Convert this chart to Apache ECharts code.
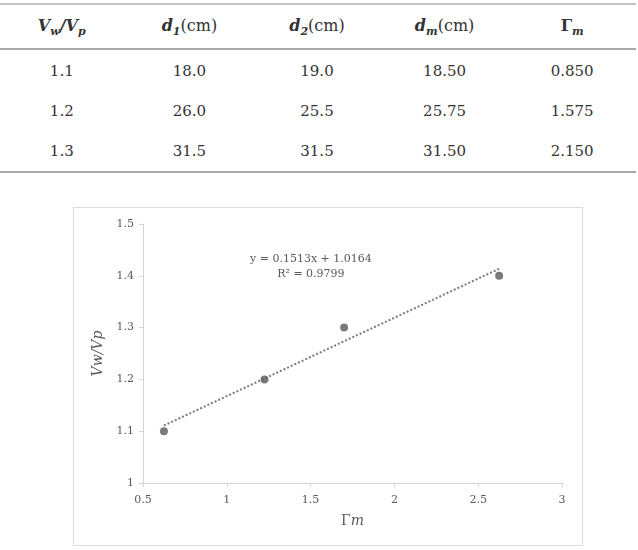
<!DOCTYPE html>
<html lang="en">
  <head>
    <meta charset="UTF-8" />
    <title>Vw/Vp versus Γm</title>
    <script src="https://cdn.jsdelivr.net/npm/echarts@6/dist/echarts.min.js"></script>
    <style>
      body { margin: 0; background: #fff; width: 638px; height: 550px; position: relative; }
      table {
        position: absolute; left: -2px; top: 3px; width: 638px;
        border-collapse: collapse; font-family: 'DejaVu Serif', serif;
        font-size: 15px; color: #333;
      }
      table th, table td { text-align: center; padding: 0; width: 20%; }
      table thead tr { height: 45px; border-top: 2px solid #c4c4c4; border-bottom: 2px solid #a8a8a8; }
      table tbody tr { height: 41px; }
      table tbody tr:first-child td { padding-top: 1px; }
      table tbody tr:last-child { border-bottom: 2px solid #a8a8a8; }
      th { font-weight: normal; font-size: 16px; padding-top: 2px !important; }
      th b { font-style: italic; }
      th sub { font-size: 11px; }
      #main {
        position: absolute; left: 73px; top: 207px; width: 510px; height: 339px;
        box-sizing: border-box; border: 1px solid #dedede;
      }
    </style>
  </head>
  <body>
    <table id="tbl">
      <thead>
        <tr>
          <th><b>V<sub>w</sub>/V<sub>p</sub></b></th>
          <th><b>d<sub>1</sub></b>(cm)</th>
          <th><b>d<sub>2</sub></b>(cm)</th>
          <th><b>d<sub>m</sub></b>(cm)</th>
          <th><b style="font-style:normal">Γ<sub style="font-style:italic">m</sub></b></th>
        </tr>
      </thead>
      <tbody></tbody>
    </table>
    <div id="main"></div>

    <script>
      // table values
      const ratio = ['1.1', '1.2', '1.3'];
      const d1 = ['18.0', '26.0', '31.5'];
      const d2 = ['19.0', '25.5', '31.5'];
      const dm = ['18.50', '25.75', '31.50'];
      const gammaM = ['0.850', '1.575', '2.150'];

      const tbody = document.querySelector('#tbl tbody');
      ratio.forEach(function (r, i) {
        const tr = document.createElement('tr');
        [r, d1[i], d2[i], dm[i], gammaM[i]].forEach(function (v) {
          const td = document.createElement('td');
          td.textContent = v;
          tr.appendChild(td);
        });
        tbody.appendChild(tr);
      });

      // plotted points
      const plotX = [0.625, 1.225, 1.7, 2.625];
      const plotY = [1.1, 1.2, 1.3, 1.4];

      // linear trendline as shown on the chart
      const slope = 0.1513;
      const intercept = 1.0164;
      const fitX = [Math.min.apply(null, plotX), Math.max.apply(null, plotX)];
      const fitLine = fitX.map(function (x) { return [x, slope * x + intercept]; });

      const font = "'DejaVu Serif', serif";
      const grey = '#595959';

      const chart = echarts.init(document.getElementById('main'));
      chart.setOption({
        animation: false,
        textStyle: { fontFamily: font },
        grid: { left: 69, right: 20, top: 16, bottom: 62 },
        xAxis: {
          type: 'value', min: 0.5, max: 3, interval: 0.5,
          name: '{g|Γ}{m|m}', nameLocation: 'middle', nameGap: 31,
          nameTextStyle: {
            rich: {
              g: { fontFamily: font, fontSize: 14, color: grey },
              m: { fontFamily: font, fontSize: 14, color: grey, fontStyle: 'italic' }
            }
          },
          axisLine: { show: true, lineStyle: { color: '#d4d4d4' } },
          axisTick: { show: true, length: 4, lineStyle: { color: '#d4d4d4' } },
          axisLabel: { color: grey, fontSize: 11, margin: 12 },
          splitLine: { show: false }
        },
        yAxis: {
          type: 'value', min: 1, max: 1.5, interval: 0.1,
          name: 'Vw/Vp', nameLocation: 'middle', nameGap: 34,
          nameTextStyle: { color: grey, fontSize: 14, fontStyle: 'italic' },
          axisLine: { show: true, lineStyle: { color: '#d4d4d4' } },
          axisTick: { show: true, length: 4, lineStyle: { color: '#d4d4d4' } },
          axisLabel: { color: grey, fontSize: 11, margin: 9 },
          splitLine: { show: false }
        },
        graphic: [
          {
            type: 'text', left: 176, top: 44,
            style: {
              text: 'y = 0.1513x + 1.0164\nR² = 0.9799',
              font: '11px ' + font, fill: grey, textAlign: 'center', lineHeight: 15
            }
          }
        ],
        series: [
          {
            type: 'line',
            data: fitLine,
            symbol: 'none',
            lineStyle: { color: '#7a7a7a', width: 2, type: [2, 2] },
            z: 1
          },
          {
            type: 'scatter',
            data: plotX.map(function (x, i) { return [x, plotY[i]]; }),
            symbolSize: 8,
            itemStyle: { color: grey },
            z: 2
          }
        ]
      });
    </script>
  </body>
</html>
